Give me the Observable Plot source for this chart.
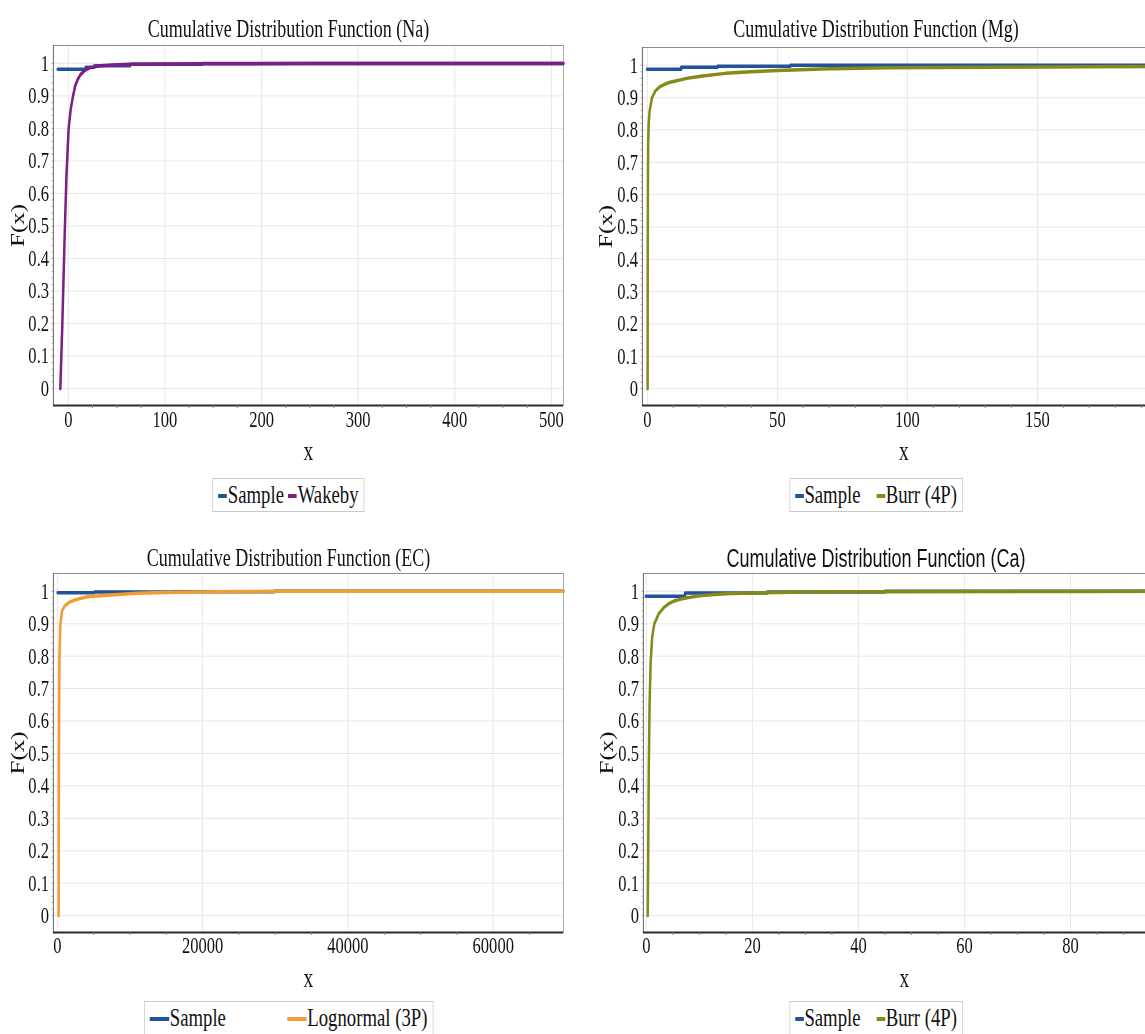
<!DOCTYPE html>
<html><head><meta charset="utf-8">
<script src="https://cdn.jsdelivr.net/npm/d3@7"></script>
<script src="https://cdn.jsdelivr.net/npm/@observablehq/plot@0.6"></script>
<style>
html,body{margin:0;padding:0;background:#fff;}
body{width:1145px;height:1034px;overflow:hidden;position:relative;}
.panel{position:absolute;transform:scaleX(0.72);transform-origin:0 0;}
.title{position:absolute;left:0;width:100%;text-align:center;font-size:25px;line-height:30px;color:#111;white-space:nowrap;}
.serif{font-family:"Liberation Serif","Times New Roman",serif;}
.sans{font-family:"Liberation Sans",Arial,sans-serif;}
.plot{position:absolute;left:0;}
.legwrap{position:absolute;left:0;width:100%;text-align:center;}
.legend{display:inline-flex;align-items:center;border:1px solid #c9c9c9;padding:0 7px;font-family:"Liberation Serif","Times New Roman",serif;font-size:26px;line-height:32px;color:#111;background:#fff;}
.item{display:inline-flex;align-items:center;white-space:nowrap;}
.sw{display:inline-block;height:4px;margin-right:1px;position:relative;top:1px;}
</style>
</head><body>
<script>
// ---------- data ----------
const blue = "#22529c";
const purple = "#7d1f84";
const olive = "#868a18";
const orange = "#f39c33";

const yTicks = [0, 0.1, 0.2, 0.3, 0.4, 0.5, 0.6, 0.7, 0.8, 0.9, 1];

// Na
const naTicks = [0, 100, 200, 300, 400, 500];
const naSampleX = [-11, 18, 27, 64, 139, 512.4];
const naSampleF = [0.982, 0.988, 0.993, 0.997, 1, 1];
const naFitX = [-8.3, -6.2, -4, -2, 0.3, 2.5, 4.9, 7, 9.6, 12.5, 15.8, 19, 22.8, 28, 33, 45, 65, 100, 140, 250, 512.4];
const naFitF = [0, 0.2, 0.45, 0.65, 0.8, 0.86, 0.9, 0.93, 0.95, 0.965, 0.975, 0.982, 0.987, 0.99, 0.993, 0.995, 0.997, 0.998, 0.999, 0.9995, 1];

// Mg
const mgTicks = [0, 50, 100, 150];
const mgSampleX = [-0.1, 13, 27, 55, 199.2];
const mgSampleF = [0.988, 0.994, 0.997, 1, 1];
const mgFitX = [0.1, 0.13, 0.2, 0.3, 0.5, 0.9, 1.8, 3, 5, 8, 10, 16, 22, 30, 40, 50, 70, 92, 132, 199.2];
const mgFitF = [0, 0.3, 0.6, 0.75, 0.82, 0.86, 0.9, 0.92, 0.935, 0.946, 0.95, 0.961, 0.968, 0.975, 0.98, 0.984, 0.989, 0.992, 0.994, 0.996];

// EC
const ecTicks = [0, 20000, 40000, 60000];
const ecSampleX = [40, 5100, 16000, 29900, 69650];
const ecSampleF = [0.996, 0.998, 0.999, 1, 1];
const ecFitX = [180, 200, 230, 290, 413, 647, 1000, 1560, 2340, 4090, 7400, 11000, 16100, 22000, 29900, 69650];
const ecFitF = [0, 0.3, 0.6, 0.8, 0.9, 0.94, 0.955, 0.965, 0.973, 0.983, 0.989, 0.994, 0.997, 0.999, 1, 1];

// Ca
const caTicks = [0, 20, 40, 60, 80];
const caSampleX = [-0.1, 7.3, 22.8, 45, 97.9];
const caSampleF = [0.985, 0.995, 0.998, 1, 1];
const caFitX = [0.25, 0.35, 0.45, 0.6, 0.8, 1.1, 1.5, 2.3, 3.3, 4.2, 5.2, 6.5, 7.7, 10, 12.7, 16, 22, 30, 45, 70, 97.9];
const caFitF = [0, 0.2, 0.45, 0.65, 0.78, 0.86, 0.9, 0.93, 0.95, 0.962, 0.97, 0.976, 0.98, 0.986, 0.99, 0.993, 0.996, 0.998, 0.999, 0.9995, 1];

const titles = ["Cumulative Distribution Function (Na)", "Cumulative Distribution Function (Mg)",
                "Cumulative Distribution Function (EC)", "Cumulative Distribution Function (Ca)"];
const fitNames = ["Wakeby", "Burr (4P)", "Lognormal (3P)", "Burr (4P)"];

// ---------- layout / options built from the data ----------
const S = 0.72; // horizontal squash of the original figure
const u = v => v / S; // real px -> unsquashed px
const yDomain = [-0.052, 1.055];
const panels = [
  {left: 0, width: u(577), titleTop: 14, titleFont: "serif", svgTop: 42, height: 428, mt: 3, mb: 65, ml: u(53), mr: u(14),
   xDomain: [-15.5, 512.4], ticks: naTicks, minorStep: 25, sX: naSampleX, sF: naSampleF, fX: naFitX, fF: naFitF,
   color: purple, legTop: 478, gap: 6, swW: 12, ylo: 58, xlo: 55, xpad: 5},
  {left: 580, width: u(592), titleTop: 14, titleFont: "serif", svgTop: 42, height: 428, mt: 5, mb: 65, ml: u(62), mr: u(7),
   xDomain: [-1.92, 199.2], ticks: mgTicks, minorStep: 10, sX: mgSampleX, sF: mgSampleF, fX: mgFitX, fF: mgFitF,
   color: olive, legTop: 478, gap: 22, swW: 12, ylo: 60, xlo: 55, xpad: 5},
  {left: 0, width: u(577), titleTop: 543, titleFont: "serif", svgTop: 570, height: 430, mt: 3, mb: 68, ml: u(53), mr: u(14),
   xDomain: [-550, 69650], ticks: ecTicks, minorStep: 5000, sX: ecSampleX, sF: ecSampleF, fX: ecFitX, fF: ecFitF,
   color: orange, legTop: 1001, gap: 85, swW: 27, ylo: 58, xlo: 55, xpad: 4},
  {left: 580, width: u(592), titleTop: 543, titleFont: "sans", svgTop: 570, height: 430, mt: 3, mb: 68, ml: u(63), mr: u(7),
   xDomain: [-0.57, 97.9], ticks: caTicks, minorStep: 5, sX: caSampleX, sF: caSampleF, fX: caFitX, fF: caFitF,
   color: olive, legTop: 1001, gap: 22, swW: 12, ylo: 60, xlo: 55, xpad: 4}
];

panels.forEach((p, i) => {
  const div = document.createElement("div");
  div.className = "panel";
  div.style.left = p.left + "px";
  div.style.top = "0px";
  div.style.width = p.width + "px";
  div.style.height = "1034px";
  document.body.appendChild(div);

  const t = document.createElement("div");
  t.className = "title " + p.titleFont;
  t.style.top = p.titleTop + "px";
  t.textContent = titles[i];
  div.appendChild(t);

  const sample = p.sX.map((x, j) => ({x, F: p.sF[j]}));
  const fit = p.fX.map((x, j) => ({x, F: p.fF[j]}));
  const minorX = d3.range(0, p.xDomain[1], p.minorStep).filter(v => !p.ticks.includes(v));
  const minorY = d3.range(0, 51).map(k => +(k * 0.02).toFixed(2));

  const chart = Plot.plot({
    width: p.width, height: p.height,
    marginLeft: p.ml, marginRight: p.mr, marginTop: p.mt, marginBottom: p.mb,
    style: {fontFamily: '"Liberation Serif","Times New Roman",serif', fontSize: "23px", color: "#111", background: "transparent", overflow: "visible"},
    x: {domain: p.xDomain},
    y: {domain: yDomain},
    marks: [
      Plot.gridX(p.ticks, {stroke: "#e4e4e4", strokeOpacity: 1}),
      Plot.gridY(yTicks, {stroke: "#e4e4e4", strokeOpacity: 1}),
      Plot.frame({stroke: "#8c8c8c"}),
      Plot.ruleX([p.xDomain[0]], {stroke: "#6a6a6a", strokeWidth: 1.3}),
      Plot.ruleY([yDomain[0]], {stroke: "#2a2a2a", strokeWidth: 2}),
      Plot.axisX({ticks: minorX, tickSize: 3, tickFormat: () => "", label: null, stroke: "#777"}),
      Plot.axisY({ticks: minorY, tickSize: 2, tickFormat: () => "", label: null, stroke: "#999"}),
      Plot.axisX({ticks: p.ticks, tickSize: 0, tickPadding: p.xpad, tickFormat: d => String(d), label: null, fontSize: 23}),
      Plot.axisY({ticks: yTicks, tickSize: 0, tickPadding: 6, tickFormat: d => String(d), label: null, fontSize: 23}),
      Plot.axisX({ticks: [], tickSize: 0, label: "x", labelAnchor: "center", labelOffset: p.xlo, labelArrow: "none", fontSize: 27}),
      Plot.axisY({ticks: [], tickSize: 0, label: "F(x)", labelAnchor: "center", labelOffset: p.ylo, labelArrow: "none", fontSize: 25, fontWeight: "normal"}),
      Plot.line(sample, {x: "x", y: "F", curve: "step-after", stroke: blue, strokeWidth: 3.5}),
      Plot.line(fit, {x: "x", y: "F", stroke: p.color, strokeWidth: 3.5})
    ]
  });
  chart.classList.add("plot");
  chart.style.top = p.svgTop + "px";
  div.appendChild(chart);

  const lw = document.createElement("div");
  lw.className = "legwrap";
  lw.style.top = p.legTop + "px";
  const leg = document.createElement("div");
  leg.className = "legend";
  [["Sample", blue], [fitNames[i], p.color]].forEach(([name, c], k) => {
    const it = document.createElement("span");
    it.className = "item";
    if (k > 0) it.style.marginLeft = p.gap + "px";
    const sw = document.createElement("span");
    sw.className = "sw";
    sw.style.width = p.swW + "px";
    sw.style.background = c;
    const tx = document.createElement("span");
    tx.textContent = name;
    it.appendChild(sw);
    it.appendChild(tx);
    leg.appendChild(it);
  });
  lw.appendChild(leg);
  div.appendChild(lw);
});
</script>
</body></html>
